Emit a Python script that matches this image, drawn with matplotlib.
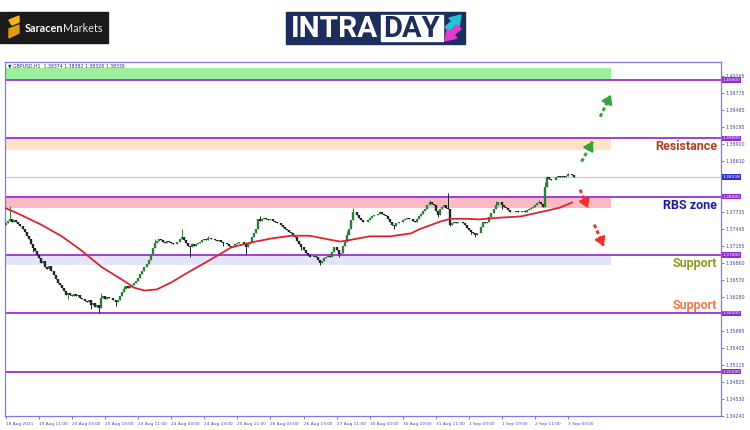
import matplotlib.pyplot as plt
from matplotlib.patches import Rectangle, Polygon

# --- data (GBPUSD H1) ---
symbol_header = "\u25bc GBPUSD,H1  1.38374 1.38382 1.38328 1.38338"
last_price = 1.38338
first_open = 1.3752

closes = [
    1.3755, 1.3758, 1.3762, 1.3757, 1.3760, 1.3757, 1.3753, 1.3749, 1.3745, 1.3740,
    1.3732, 1.3727, 1.3718, 1.3712, 1.3706, 1.3700, 1.3694, 1.3687, 1.3690, 1.3679,
    1.3676, 1.3681, 1.3672, 1.3666, 1.3658, 1.3652, 1.3648, 1.3644, 1.3638, 1.3632,
    1.3634, 1.3632, 1.3630, 1.3633, 1.3629, 1.3631, 1.3627, 1.3625, 1.3621, 1.3619,
    1.3622, 1.3615, 1.3618, 1.3610, 1.3614, 1.3609, 1.3627, 1.3630, 1.3624, 1.3628,
    1.3626, 1.3627, 1.3622, 1.3619, 1.3622, 1.3630, 1.3636, 1.3641, 1.3646, 1.3644,
    1.3646, 1.3649, 1.3652, 1.3655, 1.3660, 1.3667, 1.3672, 1.3679, 1.3684, 1.3692,
    1.3701, 1.3712, 1.3721, 1.3724, 1.3728, 1.3726, 1.3723, 1.3721, 1.3724, 1.3722,
    1.3721, 1.3719, 1.3718, 1.3722, 1.3727, 1.3730, 1.3725, 1.3721, 1.3716, 1.3713,
    1.3718, 1.3715, 1.3718, 1.3721, 1.3723, 1.3725, 1.3727, 1.3726, 1.3729, 1.3728,
    1.3727, 1.3726, 1.3724, 1.3725, 1.3723, 1.3721, 1.3720, 1.3718, 1.3716, 1.3714,
    1.3716, 1.3718, 1.3720, 1.3722, 1.3723, 1.3719, 1.3713, 1.3718, 1.3723, 1.3730,
    1.3737, 1.3744, 1.3761, 1.3759, 1.3762, 1.3763, 1.3761, 1.3760, 1.3762, 1.3758,
    1.3756, 1.3754, 1.3755, 1.3752, 1.3748, 1.3744, 1.3742, 1.3740, 1.3738, 1.3733,
    1.3730, 1.3724, 1.3718, 1.3714, 1.3708, 1.3704, 1.3700, 1.3697, 1.3696, 1.3698,
    1.3697, 1.3692, 1.3687, 1.3690, 1.3694, 1.3696, 1.3698, 1.3697, 1.3705, 1.3713,
    1.3708, 1.3702, 1.3704, 1.3715, 1.3723, 1.3735, 1.3744, 1.3760, 1.3773, 1.3773,
    1.3768, 1.3764, 1.3760, 1.3757, 1.3756, 1.3760, 1.3764, 1.3767, 1.3769, 1.3769,
    1.3771, 1.3773, 1.3770, 1.3768, 1.3766, 1.3762, 1.3757, 1.3752, 1.3749, 1.3754,
    1.3757, 1.3757, 1.3760, 1.3761, 1.3763, 1.3762, 1.3762, 1.3759, 1.3757, 1.3762,
    1.3766, 1.3770, 1.3775, 1.3778, 1.3785, 1.3791, 1.3788, 1.3786, 1.3775, 1.3769,
    1.3778, 1.3783, 1.3786, 1.3781, 1.3778, 1.3752, 1.3755, 1.3756, 1.3754, 1.3757,
    1.3756, 1.3754, 1.3752, 1.3746, 1.3742, 1.3740, 1.3737, 1.3735, 1.3737, 1.3738,
    1.3748, 1.3757, 1.3755, 1.3757, 1.3765, 1.3772, 1.3778, 1.3786, 1.3791, 1.3790,
    1.3786, 1.3783, 1.3781, 1.3777, 1.3773, 1.3774, 1.3773, 1.3775, 1.3774, 1.3774,
    1.3776, 1.3774, 1.3777, 1.3779, 1.3780, 1.3783, 1.3786, 1.3789, 1.3791, 1.3788,
    1.3783, 1.3817, 1.3833, 1.3830, 1.3829, 1.3829, 1.3834, 1.3836, 1.3833, 1.3835,
    1.3833, 1.3835, 1.3839, 1.3838, 1.3837, 1.38338,
]
wick_highs = {2: 1.3784, 46: 1.3634, 57: 1.3647, 72: 1.3727, 85: 1.3744, 98: 1.3733,
              123: 1.3766, 165: 1.3741, 168: 1.3780, 181: 1.3776, 205: 1.3795, 214: 1.3807,
              237: 1.3792, 258: 1.3794, 261: 1.3825, 262: 1.3836, 272: 1.3841}
wick_lows = {13: 1.3705, 30: 1.3625, 41: 1.3608, 45: 1.3601, 53: 1.3613, 89: 1.3696,
             105: 1.3716, 116: 1.3701, 143: 1.3708, 152: 1.3682, 161: 1.3697, 188: 1.3744,
             209: 1.3765, 215: 1.3750, 225: 1.3736, 227: 1.3731, 240: 1.3779}

ma_bars = [0, 7, 17, 27, 36, 46, 56, 62, 67, 73, 80, 89, 99, 109, 118, 128, 138,
           147, 157, 162, 167, 176, 186, 196, 200, 210, 215, 223, 229, 239, 249, 258, 268, 274]
ma_values = [1.3780, 1.3769, 1.3752, 1.3732, 1.3709, 1.3680, 1.3658, 1.3644, 1.3639,
             1.3641, 1.3653, 1.3672, 1.3692, 1.3713, 1.3721, 1.3728, 1.3733, 1.3733,
             1.3726, 1.3723, 1.3726, 1.3732, 1.3732, 1.3737, 1.3744, 1.3757, 1.3762,
             1.3762, 1.3761, 1.3764, 1.3766, 1.3773, 1.3781, 1.3790]

time_labels = ["18 Aug 2021", "19 Aug 11:00", "20 Aug 03:00", "20 Aug 19:00", "23 Aug 11:00",
               "24 Aug 03:00", "24 Aug 19:00", "25 Aug 11:00", "26 Aug 03:00", "26 Aug 19:00",
               "27 Aug 11:00", "30 Aug 03:00", "30 Aug 19:00", "31 Aug 11:00", "1 Sep 03:00",
               "1 Sep 19:00", "2 Sep 11:00", "3 Sep 03:00"]
bars_per_label = 16

price_ticks = ["1.40065", "1.39775", "1.39485", "1.39195", "1.38900", "1.38610", "1.37735",
               "1.37445", "1.37155", "1.36860", "1.36570", "1.36280", "1.35695", "1.35405",
               "1.35115", "1.34825", "1.34530", "1.34240"]

level_lines = [1.40, 1.39, 1.38, 1.37, 1.36, 1.35]
zone_bottoms = [1.4000, 1.3880, 1.3780, 1.3683]
zone_tops = [1.4021, 1.3900, 1.3800, 1.3700]
zone_colors = ['#9cf09c', '#fde2c6', '#fbbac3', '#e4e4f8']

zone_names = ["Resistance", "RBS zone", "Support", "Support"]
zone_name_y = [1.38855, 1.37846, 1.36855, 1.36137]
zone_name_colors = ['#a8431f', '#1d1da3', '#8e9a1e', '#f07a3e']

# scenario arrows: (bar_from, price_from, bar_to, price_to)
green_arrows = [(278.6, 1.38600, 284.0, 1.38945), (287.6, 1.39370, 292.8, 1.39744)]
red_arrows = [(277.9, 1.38120, 281.6, 1.37807), (284.8, 1.37520, 289.3, 1.37150)]

# --- figure ---
fig = plt.figure(figsize=(7.5, 4.3), dpi=100)
ax = fig.add_axes([5 / 750, 14 / 430, 716 / 750, 354 / 430])

n = len(closes)
opens = [first_open] + closes[:-1]
bar_x = list(range(n))
highs = [max(o, c, wick_highs.get(i, 0)) for i, (o, c) in enumerate(zip(opens, closes))]
lows = [min(o, c, wick_lows.get(i, 9)) for i, (o, c) in enumerate(zip(opens, closes))]

frac_zone = 606 / 716
for b, t, col in zip(zone_bottoms, zone_tops, zone_colors):
    ax.axhspan(b, t, xmin=0, xmax=frac_zone, color=col, lw=0, zorder=1)

for lv in level_lines:
    ax.axhline(lv, color='#9a2fd6', lw=1.3, zorder=2)
ax.axhline(last_price, color='#c8c8c8', lw=0.8, zorder=2)

up_col, dn_col = '#2f7d3a', '#222222'
cols = [up_col if c >= o else dn_col for o, c in zip(opens, closes)]
ax.vlines(bar_x, lows, highs, colors=cols, lw=0.7, zorder=3)
ax.vlines(bar_x, opens, closes, colors=cols, lw=1.7, zorder=3)

ax.plot(ma_bars, ma_values, color='#d8262f', lw=1.3, zorder=4)


def dashed_arrow(x0, y0, x1, y1, col):
    # dotted shaft, then a solid head on the last part
    ax.plot([x0, x1], [y0, y1], color=col, lw=2.2, ls=(0, (1.2, 0.9)),
            solid_capstyle='butt', dash_capstyle='butt', zorder=5)
    hx = x0 + 0.7 * (x1 - x0)
    hy = y0 + 0.7 * (y1 - y0)
    ax.annotate('', xy=(x1, y1), xytext=(hx, hy),
                arrowprops=dict(arrowstyle='-|>,head_length=0.5,head_width=0.33',
                                color=col, lw=1.6, shrinkA=0, shrinkB=0), zorder=6)


for x0, y0, x1, y1 in green_arrows:
    dashed_arrow(x0, y0, x1, y1, '#35a23a')
for x0, y0, x1, y1 in red_arrows:
    dashed_arrow(x0, y0, x1, y1, '#e8352b')

for name, y, col in zip(zone_names, zone_name_y, zone_name_colors):
    ax.text(0.995, y, name, transform=ax.get_yaxis_transform(), ha='right', va='center',
            fontsize=9, fontweight='bold', color=col, family='Roboto', zorder=6)

ax.text(0.004, 0.997, symbol_header, transform=ax.transAxes, ha='left', va='top',
        fontsize=3.3, color='#2a2a8a', zorder=6)

ax.set_xlim(-0.5, 346.1)
ax.set_ylim(1.34256, 1.40308)

ax.set_xticks([bars_per_label * k for k in range(len(time_labels))])
ax.set_xticklabels(time_labels, ha='left')
ax.yaxis.tick_right()
ax.set_yticks([float(p) for p in price_ticks])
ax.set_yticklabels(price_ticks)
ax.tick_params(axis='both', labelsize=3.4, colors='#4848a0', length=2, width=0.5, pad=1.5)
ax.tick_params(axis='x', labelsize=3.05, pad=2)
for sp in ax.spines.values():
    sp.set_color('#8078e8')
    sp.set_linewidth(0.9)

for lv in level_lines:
    ax.text(1.002, lv, f'{lv:.5f}', transform=ax.get_yaxis_transform(), ha='left', va='center',
            fontsize=3.2, color='white', zorder=7, clip_on=False,
            bbox=dict(boxstyle='square,pad=0.18', fc='#8f2bd0', ec='none'))
ax.text(1.002, last_price, f'{last_price:.5f}', transform=ax.get_yaxis_transform(), ha='left',
        va='center', fontsize=3.2, color='white', zorder=7, clip_on=False,
        bbox=dict(boxstyle='square,pad=0.18', fc='#2e2ed0', ec='none'))

# --- logos (pixel coordinates) ---
lg = fig.add_axes([0, 0, 1, 1], zorder=10)
lg.set_xlim(0, 750)
lg.set_ylim(430, 0)
lg.axis('off')
lg.patch.set_alpha(0)

lg.add_patch(Rectangle((0, 12), 108, 31, color='#1b1b1b'))
lg.add_patch(Polygon([(9, 20), (19, 16), (19, 22), (12, 25)], color='#f2b418'))
lg.add_patch(Polygon([(9, 29), (19, 25), (19, 33), (9, 38)], color='#e29a10'))
t1 = lg.text(25, 28, 'Saracen', color='white', fontsize=7.8, fontweight='bold', va='center',
             family='Lato')
lg.annotate('Markets', xy=(1, 0.5), xycoords=t1, va='center', ha='left',
            color='#e8e8e8', fontsize=7.8, family='Lato')

lg.add_patch(Rectangle((286, 12), 179, 32, color='#1c2f5c'))
lg.add_patch(Rectangle((381, 15), 62, 26, color='white'))
lg.text(291, 29, 'INTRA', color='white', fontsize=21.5, fontweight='bold', va='center',
        family='Roboto')
lg.text(383, 29, 'DAY', color='#1c2f5c', fontsize=21, fontweight='bold', va='center',
        family='Roboto')
lg.add_patch(Polygon([(445, 27), (452, 21), (449, 18), (461, 15), (459, 27), (456, 24), (449, 31)],
                     color='#22c3d6'))
lg.add_patch(Polygon([(461, 29), (454, 35), (457, 38), (445, 41), (447, 29), (450, 32), (457, 25)],
                     color='#e23bd0'))

fig.savefig('out.png', dpi=100)
